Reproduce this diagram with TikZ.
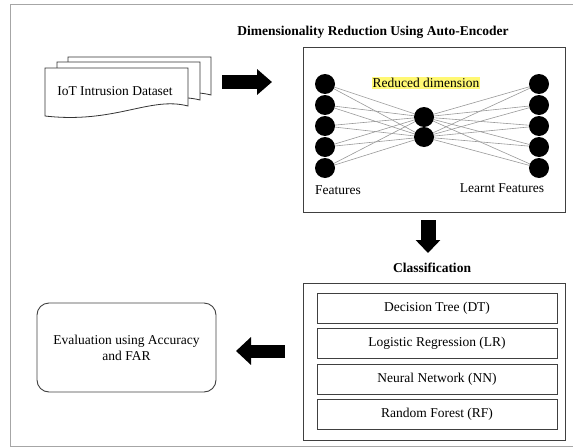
\documentclass[tikz,border=0pt]{standalone}
\usepackage{fontspec}
\setmainfont{Liberation Serif}
\usetikzlibrary{arrows.meta}
\begin{document}
\begin{tikzpicture}[x=1pt,y=-1pt,
  every node/.style={font=\fontsize{13.5}{16}\selectfont},
  box/.style={draw=black!75,line width=0.9pt,inner sep=0pt},
  neuron/.style={circle,fill=black,minimum size=20pt,inner sep=0pt},
  link/.style={gray!80,line width=0.6pt},
  fatarrow/.style={-{Triangle[width=25pt,length=15pt]},line width=14pt}]
\useasboundingbox (0,0) rectangle (573,447);
\draw[gray!70,line width=1pt] (573,4) -- (10,4) -- (10,446) -- (573,446);
% dataset pages
\foreach \dx/\dy in {23/-11,12/-6,0/0}
  \draw[black!80,line width=0.8pt,fill=white,shift={(45+\dx,68+\dy)}] (0,0) -- (143,0) -- (143,38) .. controls (105,28) and (70,56) .. (0,48) -- cycle;
\node (data) at (115,91) {IoT Intrusion Dataset};
\coordinate (r1) at (222,82); \coordinate (r2) at (272,82);
\draw[fatarrow] (r1) -- (r2);
% auto-encoder
\node (aetitle) at (373,32) {\textbf{Dimensionality Reduction Using Auto-Encoder}};
\node[box,minimum width=262pt,minimum height=165pt] (ae) at (434,129.5) {};
\foreach \i/\y in {1/84,2/105,3/126,4/147,5/168}{\node[neuron] (in\i) at (325,\y) {}; \node[neuron] (out\i) at (539,\y) {};}
\node[neuron] (mid1) at (424,117) {}; \node[neuron] (mid2) at (424,137) {};
\foreach \i in {1,...,5} \foreach \j in {1,2} {\draw[link] (in\i) -- (mid\j); \draw[link] (mid\j) -- (out\i);}
\node[fill=yellow!55,inner sep=1pt] (reduced) at (426,83) {Reduced dimension};
\node (feat) at (338,190) {Features};
\node (learnt) at (502,188) {Learnt Features};
\coordinate (d1) at (428,220); \coordinate (d2) at (428,253);
\draw[fatarrow,line width=15pt,-{Triangle[width=24pt,length=13pt]}] (d1) -- (d2);
% classifiers
\node (clstitle) at (432,268) {\textbf{Classification}};
\node[box,minimum width=262pt,minimum height=157pt] (cls) at (434,361.5) {};
\foreach \n/\y/\t in {dt/308/{Decision Tree (DT)},lr/343.5/{Logistic Regression (LR)},nn/379/{Neural Network (NN)},rf/414/{Random Forest (RF)}}
  \node[box,minimum width=240pt,minimum height=30pt] (\n) at (437,\y) {\t};
\coordinate (l1) at (285,351); \coordinate (l2) at (236,351);
\draw[fatarrow,line width=13pt,-{Triangle[width=27pt,length=15pt]}] (l1) -- (l2);
\node[box,rounded corners=12pt,minimum width=179pt,minimum height=89pt,align=center] (eval) at (126.5,347.5) {Evaluation using Accuracy\\and FAR};
\end{tikzpicture}
\end{document}
